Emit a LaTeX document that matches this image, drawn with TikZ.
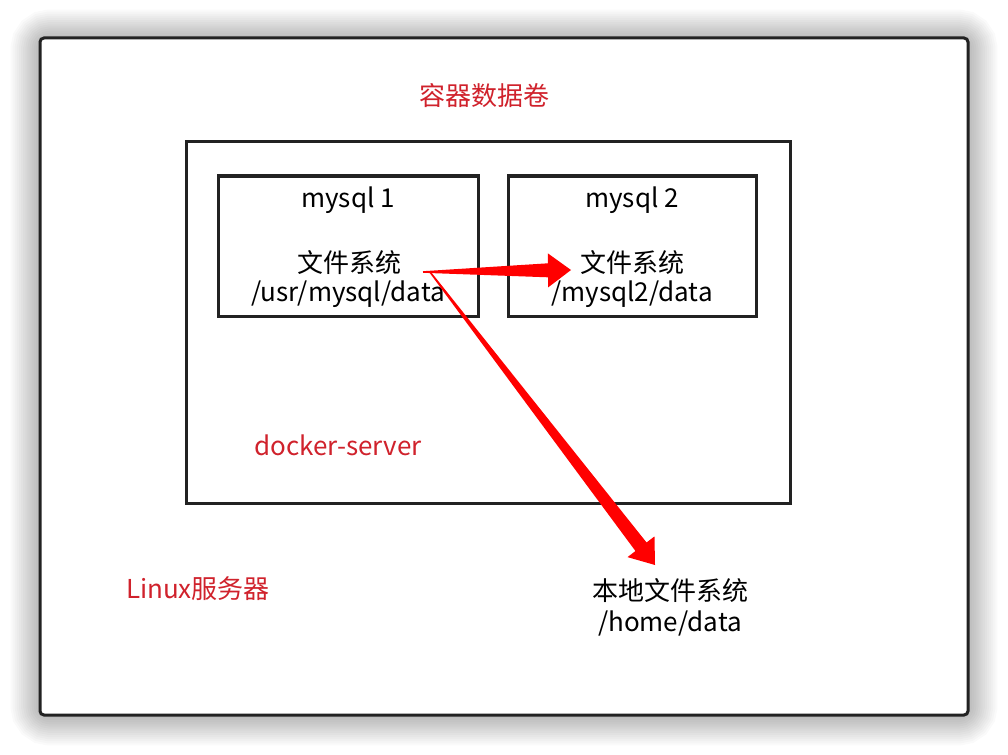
\documentclass[tikz,border=0pt]{standalone}
\usepackage{fontspec}
\setmainfont{Noto Sans CJK SC}
\usetikzlibrary{calc}

\definecolor{framegray}{RGB}{34,34,34}
\definecolor{labelred}{RGB}{208,34,44}
\definecolor{arrowred}{RGB}{255,0,0}

\tikzset{
  box/.style={draw=framegray, line width=3pt},
  txt/.style={font=\fontsize{26}{30}\selectfont, inner sep=0pt},
  redtxt/.style={txt, text=labelred},
}

% tapered arrow: #1 start, #2 tip
\newcommand{\fatarrow}[2]{%
  \coordinate (hb) at ($(#2)!23pt!(#1)$);
  \fill[arrowred] ($(#1)!0.8pt!90:(#2)$) -- ($(hb)!7pt!-90:(#1)$)
    -- ($(hb)!17pt!-90:(#1)$) -- (#2) -- ($(hb)!17pt!90:(#1)$)
    -- ($(hb)!7pt!90:(#1)$) -- ($(#1)!0.8pt!-90:(#2)$) -- cycle;}

\begin{document}
\begin{tikzpicture}[x=1pt, y=-1pt]
  \useasboundingbox (0,0) rectangle (1008,754);
  \fill[white] (0,0) rectangle (1008,754);

  % soft shadow round the server frame
  \foreach \i in {1,...,14}
    \draw[black, opacity=0.018, line width=\i*4.2pt, rounded corners=10pt]
      (40,39) rectangle (968,716);
  \fill[white, rounded corners=4pt] (40,38) rectangle (968,715);

  % linux server
  \draw[box, rounded corners=4pt] (40,38) rectangle (968,715);
  \node[redtxt] (volume) at (484,96) {容器数据卷};
  \node[redtxt] (linux) at (198,589) {Linux服务器};

  % docker server
  \draw[box] (186,142) rectangle (790,503);
  \node[redtxt] (docker) at (338,445) {docker-server};

  % containers
  \draw[box] (218,176) rectangle (478,316);
  \node[txt] (name1) at (348,200) {mysql 1};
  \node[txt] (fs1) at (349,263) {文件系统};
  \node[txt] (path1) at (348,294) {/usr/mysql/data};

  \draw[box] (508,176) rectangle (756,316);
  \node[txt] (name2) at (632,200) {mysql 2};
  \node[txt] (fs2) at (632,263) {文件系统};
  \node[txt] (path2) at (632,294) {/mysql2/data};

  % host directory
  \node[txt] (hostfs) at (670,591) {本地文件系统};
  \node[txt] (hostpath) at (670,623) {/home/data};

  % mounts
  \coordinate (src1) at (423,272);
  \coordinate (src2) at (430,272);
  \coordinate (tip1) at (571,270);
  \coordinate (tip2) at (655,565);
  \fatarrow{src1}{tip1}
  \fatarrow{src2}{tip2}
\end{tikzpicture}
\end{document}
